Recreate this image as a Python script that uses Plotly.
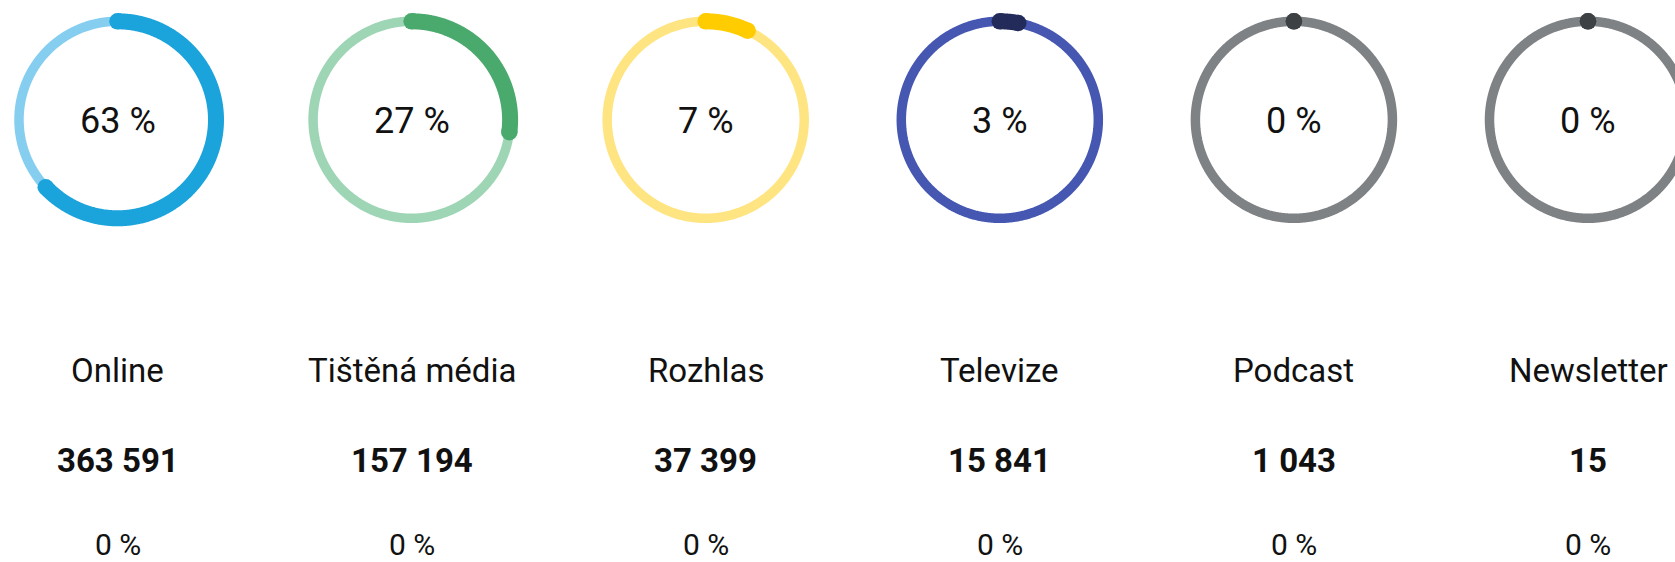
import numpy as np
import plotly.graph_objects as go

# ---- data ----
categories = ["Online", "Tištěná média", "Rozhlas", "Televize", "Podcast", "Newsletter"]
share_pct = [63, 27, 7, 3, 0, 0]
counts = [363591, 157194, 37399, 15841, 1043, 15]
change_pct = [0, 0, 0, 0, 0, 0]

# ---- style ----
main_colors = ["#1BA3DC", "#4AA96C", "#FFCC00", "#222B5A", "#3E4144", "#3E4144"]
track_colors = ["#86CEF0", "#9ED6B5", "#FFE482", "#4557B1", "#7E8285", "#7E8285"]

W, H = 1675, 562
cx0, dx = 117.5, 294.1
cy = 119.8
R = 98.5
thin_w, thick_w = 9.5, 16

def fmt(n):
    return f"{n:,}".replace(",", " ")

fig = go.Figure()
for i, cat in enumerate(categories):
    cx = cx0 + i * dx
    t = np.linspace(0, 2 * np.pi, 720)
    fig.add_trace(go.Scatter(x=cx + R * np.sin(t), y=cy - R * np.cos(t), mode="lines",
                             line=dict(color=track_colors[i], width=thin_w, simplify=False),
                             hoverinfo="skip", showlegend=False))
    frac = share_pct[i] / 100
    end = 2 * np.pi * frac
    if frac > 0:
        ta = np.linspace(0, end, max(int(720 * frac), 3))
        fig.add_trace(go.Scatter(x=cx + R * np.sin(ta), y=cy - R * np.cos(ta), mode="lines",
                                 line=dict(color=main_colors[i], width=thick_w, simplify=False),
                                 hoverinfo="skip", showlegend=False))
    caps = [0, end]
    fig.add_trace(go.Scatter(x=[cx + R * np.sin(a) for a in caps], y=[cy - R * np.cos(a) for a in caps],
                             mode="markers", marker=dict(color=main_colors[i], size=thick_w + 0.5, line=dict(width=0)),
                             hoverinfo="skip", showlegend=False))
    fig.add_annotation(x=cx, y=cy + 1, text=f"{share_pct[i]} %", showarrow=False,
                       font=dict(family="Roboto", size=36, color="#111111"))
    fig.add_annotation(x=cx, y=370.5, text=cat, showarrow=False,
                       font=dict(family="Roboto", size=33, color="#111111"))
    fig.add_annotation(x=cx, y=460.5, text=f"<b>{fmt(counts[i])}</b>", showarrow=False,
                       font=dict(family="Roboto", size=33, color="#111111"))
    fig.add_annotation(x=cx, y=544, text=f"{change_pct[i]} %", showarrow=False,
                       font=dict(family="Roboto", size=30, color="#111111"))

fig.update_layout(
    width=W, height=H,
    margin=dict(l=0, r=0, t=0, b=0),
    paper_bgcolor="white", plot_bgcolor="white",
    xaxis=dict(range=[0, W], visible=False, fixedrange=True),
    yaxis=dict(range=[H, 0], visible=False, fixedrange=True),
    showlegend=False,
)
fig.write_html("out.html", config={"displayModeBar": False},
               post_script="document.body.style.margin='0';document.body.style.overflow='hidden';")
